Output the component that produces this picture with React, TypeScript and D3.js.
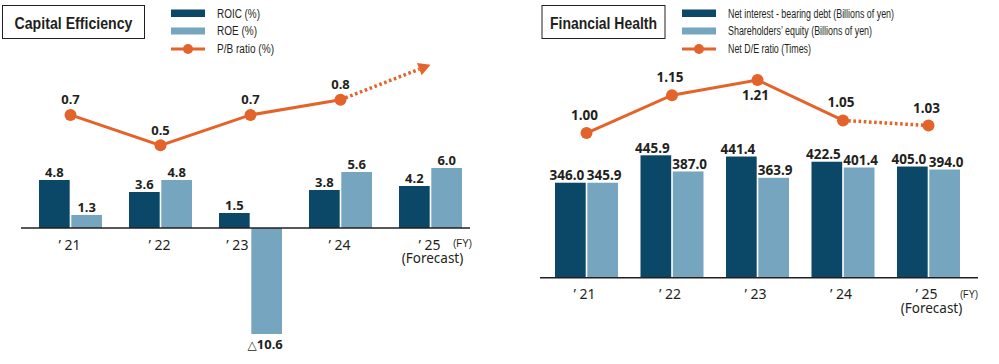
import React from "react";
import * as d3 from "d3";

// fiscal years and values
const years = ["’ 21", "’ 22", "’ 23", "’ 24", "’ 25"];
const roic = [4.8, 3.6, 1.5, 3.8, 4.2];
const roe = [1.3, 4.8, -10.6, 5.6, 6.0];
const pbRatio = [0.7, 0.5, 0.7, 0.8];
const pbArrowTarget = 1.03; // where the forecast arrow points
const netDebt = [346.0, 445.9, 441.4, 422.5, 405.0];
const equity = [345.9, 387.0, 363.9, 401.4, 394.0];
const deRatio = [1.0, 1.15, 1.21, 1.05, 1.03];

const leftLegend = ["ROIC (%)", "ROE (%)", "P/B ratio (%)"];
const rightLegend = [
  "Net interest - bearing debt (Billions of yen)",
  "Shareholders’ equity (Billions of yen)",
  "Net D/E ratio (Times)",
];

const DARK = "#0b4867";
const LIGHT = "#76a5bf";
const ORANGE = "#e4632a";
const INK = "#231f20";
const NUM_FONT = "'Noto Sans', sans-serif";
const SANS = "'Liberation Sans', Arial, sans-serif";

const TitleBox = ({ x, w, text, textW }) => (
  <g>
    <rect x={x} y={5.5} width={w} height={33} fill="white" stroke={INK} strokeWidth={1} />
    <text
      x={x + w / 2}
      y={29}
      textAnchor="middle"
      fontFamily={SANS}
      fontWeight="bold"
      fontSize={16.5}
      fill={INK}
      textLength={textW}
      lengthAdjust="spacingAndGlyphs"
    >
      {text}
    </text>
  </g>
);

// condensed legend text: squeezed to the widths seen in the original
const Legend = ({ x, labels, widths, size }) => (
  <g fontFamily={SANS} fontSize={size} fill={INK}>
    <rect x={x} y={9.5} width={34} height={7.5} fill={DARK} />
    <rect x={x} y={27.5} width={34} height={7} fill={LIGHT} />
    <line x1={x} x2={x + 34} y1={49} y2={49} stroke={ORANGE} strokeWidth={3} />
    <circle cx={x + 17} cy={49} r={5} fill={ORANGE} />
    {labels.map((l, i) => (
      <text key={l} x={x + 46} y={17.5 + i * 17.5} textLength={widths[i]} lengthAdjust="spacingAndGlyphs">
        {l}
      </text>
    ))}
  </g>
);

const App = () => {
  // ---------- left: capital efficiency ----------
  const xL = d3.scaleBand<string>().domain(years).range([25.5, 475.5]).paddingInner(0.3).paddingOuter(0.15);
  const subL = d3.scaleBand<number>().domain([0, 1]).range([0, xL.bandwidth()]).paddingInner(0.05);
  const yL = d3.scaleLinear().domain([-11, 6]).range([338, 168]);
  const pbY = d3.scaleLinear().domain([0.3, 1.0]).range([175.75, 69.35]);
  const cL = (i) => xL(years[i]) + xL.bandwidth() / 2;

  const pbPts = pbRatio.map((v, i) => [cL(i), pbY(v)] as [number, number]);
  const lineGen = d3.line();
  const last = pbPts[pbPts.length - 1];
  const tip: [number, number] = [cL(years.length - 1), pbY(pbArrowTarget)];
  const ang = Math.atan2(tip[1] - last[1], tip[0] - last[0]);
  const aLen = 12, aW = 6.5;
  const base: [number, number] = [tip[0] - aLen * Math.cos(ang), tip[1] - aLen * Math.sin(ang)];
  const arrow = [
    tip,
    [base[0] + aW * Math.sin(ang), base[1] - aW * Math.cos(ang)],
    [base[0] - aW * Math.sin(ang), base[1] + aW * Math.cos(ang)],
  ];

  // ---------- right: financial health ----------
  const xR = d3.scaleBand<string>().domain(years).range([543.75, 971.25]).paddingInner(0.263).paddingOuter(0.1316);
  const subR = d3.scaleBand<number>().domain([0, 1]).range([0, xR.bandwidth()]).paddingInner(0.05);
  const yR = d3.scaleLinear().domain([0, 500]).range([277.7, 140.45]);
  const deY = d3.scaleLinear().domain([0.9, 1.3]).range([158.4, 57.2]);
  const cR = (i) => xR(years[i]) + xR.bandwidth() / 2;
  const dePts = deRatio.map((v, i) => [cR(i), deY(v)] as [number, number]);
  const deMax = d3.maxIndex(deRatio);

  const leftSeries = [roic, roe];
  const rightSeries = [netDebt, equity];
  const colors = [DARK, LIGHT];

  return (
    <svg
      width={999}
      height={364}
      style={{ position: "absolute", left: 0, top: 0, background: "white" }}
    >
      {/* ===== Capital Efficiency ===== */}
      <TitleBox x={2.5} w={142} text="Capital Efficiency" textW={118} />
      <Legend x={171} labels={leftLegend} widths={[43, 40, 57]} size={12.5} />

      <g>
        {years.map((yr, i) =>
          leftSeries.map((s, j) => {
            const v = s[i];
            const x = xL(yr) + subL(j);
            return (
              <g key={yr + j}>
                <rect
                  x={x}
                  width={subL.bandwidth()}
                  y={yL(Math.max(v, 0))}
                  height={Math.abs(yL(v) - yL(0))}
                  fill={colors[j]}
                />
                <text
                  x={x + subL.bandwidth() / 2 + (v < 0 ? -1.5 : 0)}
                  y={v >= 0 ? yL(v) - 3.5 : yL(v) + 15}
                  textAnchor="middle"
                  fontFamily={NUM_FONT}
                  fontWeight="bold"
                  fontSize={13}
                  fill={INK}
                >
                  {v >= 0 ? v.toFixed(1) : (
                    <>
                      <tspan fontWeight="normal" fontFamily="'DejaVu Sans', sans-serif" fontSize={12}>△</tspan>
                      {Math.abs(v).toFixed(1)}
                    </>
                  )}
                </text>
              </g>
            );
          })
        )}
        <line x1={21} x2={470} y1={yL(0)} y2={yL(0)} stroke={INK} strokeWidth={1.5} />
        {years.map((yr, i) => (
          <text
            key={yr}
            x={roe[i] < 0 ? xL(yr) + subL.bandwidth() / 2 + 3 : cL(i) - 1}
            y={yL(0) + 22}
            textAnchor="middle"
            fontFamily={NUM_FONT}
            fontSize={14}
            fill={INK}
          >
            {yr}
          </text>
        ))}
        <text x={cL(4) + 2} y={yL(0) + 34.5} textAnchor="middle" fontFamily={NUM_FONT} fontSize={13.5} fill={INK}>
          (Forecast)
        </text>
        <text x={cL(4) + 22.5} y={yL(0) + 19} fontFamily={SANS} fontSize={10} fill={INK}
          textLength={19} lengthAdjust="spacingAndGlyphs">
          (FY)
        </text>

        <path d={lineGen(pbPts)} fill="none" stroke={ORANGE} strokeWidth={3} />
        <path
          d={lineGen([last, base])}
          fill="none"
          stroke={ORANGE}
          strokeWidth={3.5}
          strokeDasharray="2.6,2.6"
        />
        <polygon points={arrow.map((p) => p.join(",")).join(" ")} fill={ORANGE} />
        {pbPts.map((p, i) => (
          <g key={i}>
            <circle cx={p[0]} cy={p[1]} r={6} fill={ORANGE} />
            <text
              x={p[0]}
              y={p[1] - 10.5}
              textAnchor="middle"
              fontFamily={NUM_FONT}
              fontWeight="bold"
              fontSize={13}
              fill={INK}
            >
              {pbRatio[i].toFixed(1)}
            </text>
          </g>
        ))}
      </g>

      {/* ===== Financial Health ===== */}
      <TitleBox x={542} w={123} text="Financial Health" textW={107} />
      <Legend x={682} labels={rightLegend} widths={[166, 144, 83]} size={12} />

      <g>
        {years.map((yr, i) =>
          rightSeries.map((s, j) => {
            const v = s[i];
            const x = xR(yr) + subR(j);
            return (
              <g key={yr + j}>
                <rect x={x} width={subR.bandwidth()} y={yR(v)} height={yR(0) - yR(v)} fill={colors[j]} />
                <text
                  x={x + subR.bandwidth() / 2 + (j === 0 ? -3.5 : 1.5)}
                  y={yR(v) - 2.5}
                  textAnchor="middle"
                  fontFamily={NUM_FONT}
                  fontWeight="bold"
                  fontSize={13.5}
                  fill={INK}
                >
                  {v.toFixed(1)}
                </text>
              </g>
            );
          })
        )}
        <line x1={540} x2={978} y1={yR(0)} y2={yR(0)} stroke={INK} strokeWidth={1.5} />
        {years.map((yr, i) => (
          <text
            key={yr}
            x={cR(i) - 2}
            y={yR(0) + 21.5}
            textAnchor="middle"
            fontFamily={NUM_FONT}
            fontSize={14}
            fill={INK}
          >
            {yr}
          </text>
        ))}
        <text x={cR(4) + 3} y={yR(0) + 35.5} textAnchor="middle" fontFamily={NUM_FONT} fontSize={13.5} fill={INK}>
          (Forecast)
        </text>
        <text x={cR(4) + 31.5} y={yR(0) + 20} fontFamily={SANS} fontSize={10} fill={INK}
          textLength={18} lengthAdjust="spacingAndGlyphs">
          (FY)
        </text>

        <path d={lineGen(dePts.slice(0, 4))} fill="none" stroke={ORANGE} strokeWidth={3} />
        <path
          d={lineGen(dePts.slice(3))}
          fill="none"
          stroke={ORANGE}
          strokeWidth={3.5}
          strokeDasharray="2.6,2.6"
        />
        {dePts.map((p, i) => (
          <g key={i}>
            <circle cx={p[0]} cy={p[1]} r={6} fill={ORANGE} />
            <text
              x={p[0] - 2}
              y={i === deMax ? p[1] + 20 : p[1] - 13}
              textAnchor="middle"
              fontFamily={NUM_FONT}
              fontWeight="bold"
              fontSize={13.5}
              fill={INK}
            >
              {deRatio[i].toFixed(2)}
            </text>
          </g>
        ))}
      </g>
    </svg>
  );
};

export default App;
